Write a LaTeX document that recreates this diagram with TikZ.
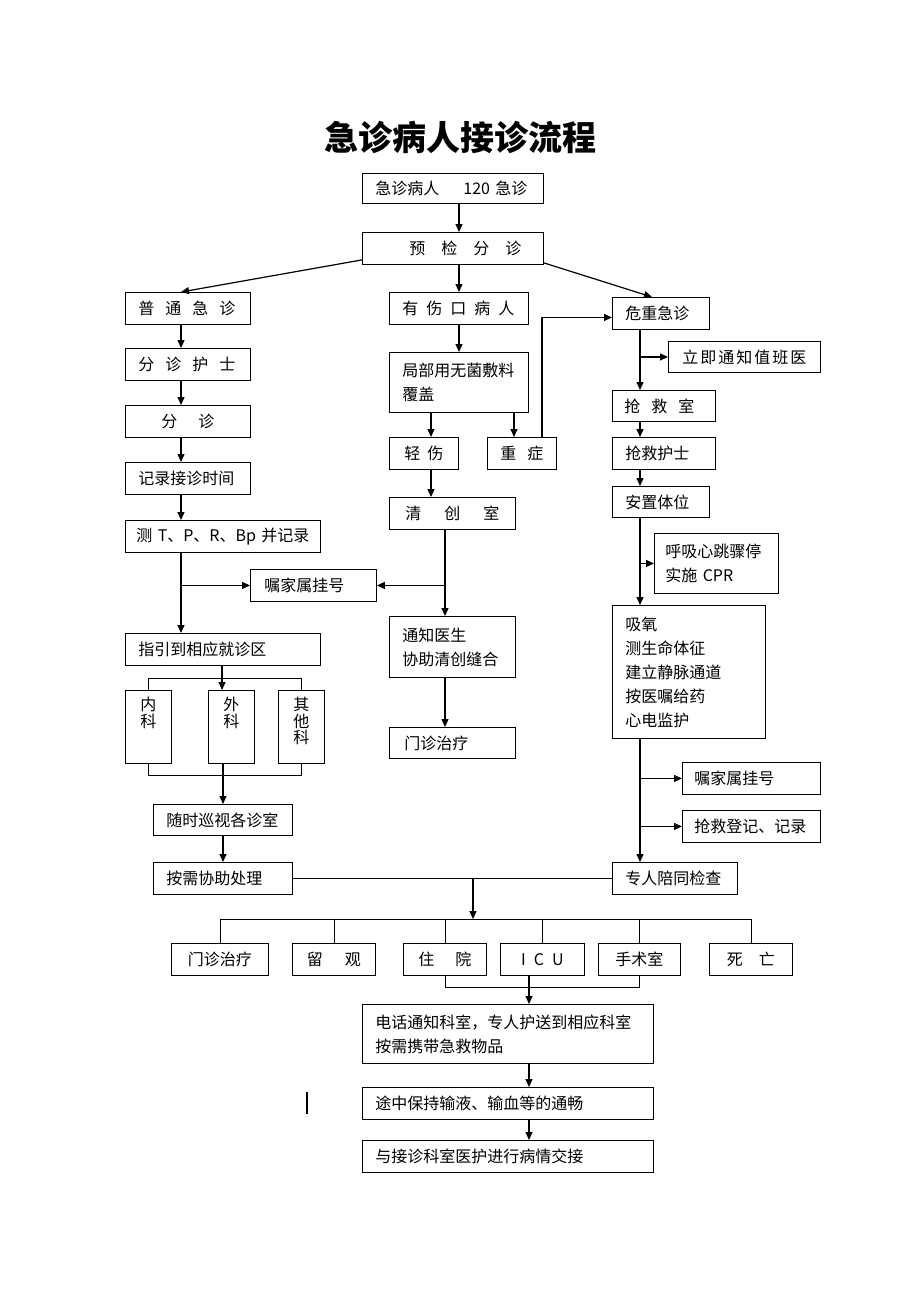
\documentclass[tikz,border=0pt]{standalone}
\usepackage{fontspec}
\setmainfont{Noto Sans CJK SC}
\usetikzlibrary{arrows.meta}
\newcommand{\hs}[1]{\hspace{#1pt}}

\begin{document}
\begin{tikzpicture}[x=1pt, y=-1pt,
  box/.style={draw, line width=0.9pt, anchor=north west, inner xsep=13pt, inner ysep=0pt, align=left, font=\fontsize{16}{24}\selectfont},
  cbox/.style={draw, line width=0.9pt, anchor=north west, inner sep=0pt, align=center, font=\fontsize{16}{24}\selectfont},
  dept/.style={draw, line width=0.9pt, anchor=north west, inner sep=0pt, minimum width=46pt, minimum height=73pt, font=\fontsize{16}{16.5}\selectfont},
  arr/.style={-{Triangle[length=8pt,width=7pt]}, line width=1.2pt},
  ln/.style={line width=0.8pt}]
\useasboundingbox (0,0) rectangle (920,1302);
% title
\node[font=\fontsize{34}{34}\selectfont\bfseries] (title) at (460,137) {急诊病人接诊流程};
% top
\node[box, text width=155pt, minimum height=30pt] (top) at (362,173) {急诊病人\hs{24}120 急诊};
\node[box, text width=155pt, minimum height=32pt] (yj) at (362,232) {\hspace*{34pt}预\hs{16}检\hs{16}分\hs{16}诊};
% three branches
\node[box, text width=99pt, minimum height=32pt] (ptjz) at (125,292) {普\hs{11}通\hs{11}急\hs{11}诊};
\node[box, text width=113pt, minimum height=32pt] (ysk) at (389,292) {有\hs{8}伤\hs{8}口\hs{8}病\hs{8}人};
\node[box, text width=71pt, minimum height=32pt] (wz) at (612,297) {危重急诊};
\node[box, text width=99pt, minimum height=32pt] (fzhs) at (125,348) {分\hs{11}诊\hs{11}护\hs{11}士};
\node[box, text width=113pt, minimum height=60pt] (jbf) at (389,352) {局部用无菌敷料\\覆盖};
\node[box, inner xsep=14pt, text width=124pt, minimum height=31pt] (lj) at (668,341) {立\hs{2}即\hs{2}通\hs{2}知\hs{2}值\hs{2}班\hs{2}医};
\node[cbox, minimum width=125pt, minimum height=32pt] (fz) at (125,405) {分\hs{21}诊};
\node[box, inner xsep=12pt, text width=79pt, minimum height=31pt] (qjs) at (612,390) {抢\hs{11}救\hs{11}室};
\node[box, inner xsep=15pt, text width=39pt, minimum height=32pt] (qsh) at (389,437) {轻\hs{7}伤};
\node[box, text width=43pt, minimum height=32pt] (zzh) at (487,437) {重\hs{11}症};
\node[box, text width=77pt, minimum height=32pt] (qjhs) at (612,437) {抢救护士};
\node[box, text width=99pt, minimum height=32pt] (jl) at (125,462) {记录接诊时间};
\node[box, text width=71pt, minimum height=31pt] (azt) at (612,486) {安置体位};
\node[cbox, minimum width=126pt, minimum height=32pt] (qcs) at (389,497) {清\hs{23}创\hs{23}室};
\node[box, inner xsep=11pt, text width=173pt, minimum height=32pt] (ce) at (125,520) {\mbox{测 T、P、R、Bp 并记录}};
\node[box, inner xsep=11pt, text width=102pt, minimum height=60pt] (hx) at (654,533) {呼吸心跳骤停\\实施 CPR};
\node[box, inner xsep=14pt, text width=98pt, minimum height=32pt] (jsgh) at (250,569) {嘱家属挂号};
\node[box, text width=127pt, minimum height=133pt] (xy) at (612,605) {吸氧\\测生命体征\\建立静脉通道\\按医嘱给药\\心电监护};
\node[box, text width=100pt, minimum height=61pt] (tz) at (389,616) {通知医生\\协助清创缝合};
\node[box, text width=169pt, minimum height=32pt] (zy) at (125,633) {指引到相应就诊区};
% departments
\foreach \n/\x/\t in {nk/125/内\\科, wk/208/外\\科, qtk/278/其\\他\\科}
  \node[dept] (\n) at (\x,690) {\parbox[c][61pt][t]{30pt}{\vspace*{1pt}\centering\t}};
\node[box, inner xsep=15pt, text width=96pt, minimum height=31pt] (mzzl) at (389,727) {门诊治疗};
\node[box, inner xsep=12pt, text width=114pt, minimum height=32pt] (jsgh2) at (682,762) {嘱家属挂号};
\node[box, text width=113pt, minimum height=31pt] (ss) at (153,804) {随时巡视各诊室};
\node[box, inner xsep=12pt, text width=114pt, minimum height=32pt] (qjdj) at (682,810) {抢救登记、记录};
\node[box, text width=113pt, minimum height=32pt] (aq) at (153,862) {按需协助处理};
\node[box, text width=99pt, minimum height=32pt] (zr) at (612,862) {专人陪同检查};
% outcomes
\foreach \n/\x/\w/\t in {mz/171/97/门诊治疗, lg/292/83/留\hs{22}观, zyy/403/83/住\hs{21}院, icu/500/84/I\hs{8}C\hs{8}U, ssh/598/82/手术室, sw/709/83/死\hs{16}亡}
  \node[cbox, minimum width=\w, minimum height=32] (\n) at (\x,943) {\t};
\node[box, text width=265pt, minimum height=59pt] (dh) at (362,1004) {电话通知科室，专人护送到相应科室\\按需携带急救物品};
\node[box, text width=265pt, minimum height=32pt] (tzbc) at (362,1087) {途中保持输液、输血等的通畅};
\node[box, text width=265pt, minimum height=32pt] (jj) at (362,1140) {与接诊科室医护进行病情交接};
% trunk positions
\coordinate (lc) at (181,0);
\coordinate (mc) at (459,0);
\coordinate (rc) at (640,0);
\coordinate (qc) at (445,0);
\coordinate (qx) at (431,0);
\coordinate (zx) at (514,0);
\coordinate (zu) at (542,0);
\coordinate (fk) at (222,678);
\coordinate (jk) at (223,775);
\coordinate (bus) at (473,919);
\coordinate (jb) at (529,987);
% top arrows
\draw[arr] (top.south -| mc) -- (yj.north -| mc);
\draw[arr] ([yshift=5pt]yj.south west) -- (ptjz.north -| lc);
\draw[arr] (yj.south -| mc) -- (ysk.north -| mc);
\draw[arr] ([yshift=2pt]yj.south east) -- ([xshift=40pt]wz.north west);
% left column
\foreach \a/\b in {ptjz/fzhs, fzhs/fz, fz/jl, jl/ce, ce/zy}
  \draw[arr] (\a.south -| lc) -- (\b.north -| lc);
\draw[arr] (jsgh.west -| lc) -- (jsgh.west);
\draw[ln] (nk.north) |- (fk) -| (qtk.north);
\draw[arr] (zy.south -| fk) -- (wk.north -| fk);
\draw[ln] (nk.south) |- (jk) -| (qtk.south);
\draw[arr] (wk.south -| jk) -- (ss.north -| jk);
\draw[arr] (ss.south -| jk) -- (aq.north -| jk);
% middle column
\draw[arr] (ysk.south -| mc) -- (jbf.north -| mc);
\draw[arr] (jbf.south -| qx) -- (qsh.north -| qx);
\draw[arr] (jbf.south -| zx) -- (zzh.north -| zx);
\draw[arr] (zzh.north -| zu) |- ([yshift=-4pt]wz.west);
\draw[arr] (qsh.south -| qx) -- (qcs.north -| qx);
\draw[arr] (qcs.south -| qc) -- (tz.north -| qc);
\draw[arr] (jsgh.east -| qc) -- (jsgh.east);
\draw[arr] (tz.south -| qc) -- (mzzl.north -| qc);
% right column
\foreach \a/\b in {wz/qjs, qjs/qjhs, qjhs/azt, azt/xy, xy/zr}
  \draw[arr] (\a.south -| rc) -- (\b.north -| rc);
\foreach \b in {lj, hx, jsgh2, qjdj}
  \draw[arr] (\b.west -| rc) -- (\b.west);
% outcomes and transfer
\draw[ln] (aq.east) -- (zr.west);
\draw[arr] (aq.east -| bus) -- (bus);
\draw[ln] (mz.north) |- (bus) -| (sw.north);
\foreach \b in {lg, zyy, icu, ssh}
  \draw[ln] (\b.north) -- (\b.north |- bus);
\draw[ln] (zyy.south) |- (jb) -| (ssh.south);
\draw[arr] (icu.south -| jb) -- (dh.north -| jb);
\draw[arr] (dh.south -| jb) -- (tzbc.north -| jb);
\draw[arr] (tzbc.south -| jb) -- (jj.north -| jb);
\draw[line width=1.3pt] (307,1092) -- (307,1114);
\end{tikzpicture}
\end{document}
